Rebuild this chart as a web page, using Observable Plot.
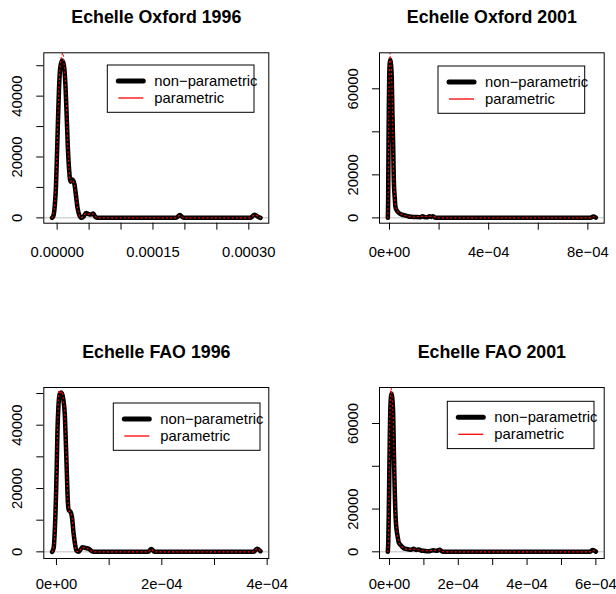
<!DOCTYPE html>
<html><head><meta charset="utf-8">
<script src="https://cdn.jsdelivr.net/npm/d3@7"></script>
<script src="https://cdn.jsdelivr.net/npm/@observablehq/plot@0.6"></script>
<style>
html,body{margin:0;padding:0;background:#fff;}
#root{position:relative;width:616px;height:594px;overflow:hidden;font-family:"Liberation Sans",Arial,Helvetica,sans-serif;}
#root svg{position:absolute;overflow:visible;}
</style></head><body><div id="root"></div>
<script>
// ---------- data ----------
const titles = ["Echelle Oxford 1996", "Echelle Oxford 2001", "Echelle FAO 1996", "Echelle FAO 2001"];
const legendLabels = ["non\u2212parametric", "parametric"];

// non-parametric (black) density curves: [x, density]
const oxford1996NP = [[-7.9e-6,0],[-5.7e-6,770],[-3.7e-6,4050],[-1.8e-6,10600],[-0.3e-6,20500],[1.3e-6,32000],[2.9e-6,42500],[4.7e-6,49100],[7.6e-6,51700],[1.04e-5,50400],[1.26e-5,45100],[1.46e-5,35300],[1.66e-5,23800],[1.88e-5,15600],[2.09e-5,11900],[2.4e-5,12600],[2.71e-5,11000],[2.95e-5,7300],[3.18e-5,3400],[3.5e-5,760],[3.81e-5,0],[4.12e-5,400],[4.51e-5,1600],[4.9e-5,1250],[5.3e-5,1100],[5.64e-5,1400],[6.0e-5,270],[6.3e-5,0],[1.86e-4,0],[1.92e-4,900],[1.98e-4,0],[3.02e-4,0],[3.09e-4,1000],[3.15e-4,300],[3.183e-4,0]];
const oxford2001NP = [[-6.7e-6,0],[-5.5e-6,8000],[-4e-6,33600],[-2.6e-6,52000],[-1.2e-6,64700],[1e-6,72000],[3.5e-6,73500],[6e-6,71500],[9.3e-6,64700],[1.2e-5,48000],[1.49e-5,33600],[1.73e-5,18000],[2.14e-5,9000],[2.42e-5,5000],[3.0e-5,3300],[3.75e-5,2300],[4.6e-5,1700],[5.8e-5,1250],[7.0e-5,900],[8.5e-5,500],[1.05e-4,380],[1.25e-4,300],[1.34e-4,750],[1.42e-4,250],[1.53e-4,300],[1.61e-4,750],[1.68e-4,450],[1.75e-4,750],[1.83e-4,150],[1.93e-4,0],[8.1e-4,0],[8.22e-4,600],[8.32e-4,100]];
const fao1996NP = [[-8.2e-6,0],[-5.1e-6,1450],[-3.2e-6,6700],[-1.9e-6,12000],[-0.6e-6,19400],[0.6e-6,27800],[1.9e-6,38300],[3.8e-6,46200],[6.3e-6,50000],[9.5e-6,50300],[1.27e-5,48400],[1.58e-5,43500],[1.77e-5,35000],[1.96e-5,25400],[2.15e-5,16200],[2.34e-5,13100],[2.66e-5,12700],[2.98e-5,10500],[3.23e-5,6100],[3.51e-5,2600],[3.8e-5,400],[4.18e-5,0],[4.56e-5,700],[4.94e-5,1450],[5.51e-5,1200],[6.13e-5,950],[6.65e-5,250],[7.1e-5,0],[1.74e-4,0],[1.8e-4,900],[1.86e-4,0],[3.74e-4,0],[3.81e-4,1000],[3.873e-4,200]];
const fao2001NP = [[-4.9e-6,0],[-3.5e-6,5000],[-2.2e-6,17000],[-0.9e-6,33300],[0.5e-6,50000],[2e-6,64500],[4e-6,72000],[6e-6,74000],[8e-6,72000],[1.07e-5,64500],[1.25e-5,49000],[1.45e-5,33300],[1.65e-5,21500],[1.83e-5,14600],[2.1e-5,9800],[2.4e-5,6800],[2.7e-5,4300],[3.4e-5,2900],[4.15e-5,1700],[5.0e-5,1300],[5.6e-5,1100],[6.3e-5,1000],[7.0e-5,1400],[7.8e-5,900],[8.5e-5,1100],[9.2e-5,600],[9.9e-5,470],[1.12e-4,250],[1.28e-4,700],[1.37e-4,450],[1.46e-4,1000],[1.52e-4,300],[1.58e-4,0],[5.82e-4,0],[5.91e-4,800],[5.999e-4,100]];

// parametric (red) curves: [x, density]
const oxford1996P = [[-7.9e-6,0],[-3.5e-6,5000],[-0.5e-6,20000],[2.5e-6,41000],[5e-6,50500],[7.5e-6,53500],[9e-6,54200],[1.1e-5,50000],[1.3e-5,44000],[1.5e-5,34000],[1.7e-5,22500],[1.9e-5,15000],[2.1e-5,12000],[2.4e-5,12300],[2.7e-5,10800],[3.0e-5,6500],[3.2e-5,3000],[3.5e-5,700],[3.8e-5,50],[4.5e-5,1500],[4.9e-5,1200],[5.6e-5,1300],[6.3e-5,0],[1.86e-4,0],[1.92e-4,800],[1.98e-4,0],[3.02e-4,0],[3.09e-4,900],[3.183e-4,0]];
const oxford2001P = [[-6.7e-6,0],[-5e-6,15000],[-3.5e-6,40000],[-1.5e-6,63000],[1e-6,74500],[2.5e-6,76500],[5e-6,73000],[9e-6,65000],[1.2e-5,48500],[1.5e-5,32500],[1.75e-5,18500],[2.1e-5,9500],[2.5e-5,5200],[3.5e-5,2600],[5e-5,1600],[7e-5,900],[1e-4,400],[1.34e-4,700],[1.61e-4,700],[1.75e-4,700],[1.93e-4,0],[8.1e-4,0],[8.22e-4,550],[8.32e-4,100]];
const fao1996P = [[-8.2e-6,0],[-5e-6,1500],[-2e-6,12000],[0.5e-6,27500],[2.5e-6,41000],[4.5e-6,51000],[6.5e-6,50500],[9e-6,49800],[1.05e-5,50800],[1.3e-5,48000],[1.6e-5,43000],[1.8e-5,34500],[2.0e-5,24500],[2.2e-5,15500],[2.45e-5,12800],[2.7e-5,12500],[3.0e-5,10200],[3.25e-5,5800],[3.5e-5,2500],[3.8e-5,300],[4.2e-5,0],[4.9e-5,1400],[6.1e-5,900],[7.1e-5,0],[1.74e-4,0],[1.8e-4,850],[1.86e-4,0],[3.74e-4,0],[3.81e-4,950],[3.873e-4,200]];
const fao2001P = [[-4.9e-6,0],[-3e-6,9000],[-1e-6,35000],[1e-6,62000],[3e-6,74000],[4.5e-6,76500],[6.5e-6,74500],[9e-6,68000],[1.1e-5,62000],[1.3e-5,46500],[1.5e-5,31500],[1.7e-5,20500],[1.9e-5,13500],[2.2e-5,9000],[2.6e-5,5200],[3.2e-5,3200],[4.2e-5,1700],[5.6e-5,1100],[7e-5,1300],[8.5e-5,1000],[1e-4,450],[1.28e-4,650],[1.46e-4,900],[1.58e-4,0],[5.82e-4,0],[5.91e-4,750],[5.999e-4,100]];

// ticks and tick labels
const xTicksOx96 = [0, 5e-5, 1e-4, 1.5e-4, 2e-4, 2.5e-4, 3e-4];
const xLabelsOx96 = ["0.00000", "", "", "0.00015", "", "", "0.00030"];
const xTicksOx01 = [0, 2e-4, 4e-4, 6e-4, 8e-4];
const xLabelsOx01 = ["0e+00", "", "4e\u221204", "", "8e\u221204"];
const xTicksFao96 = [0, 1e-4, 2e-4, 3e-4, 4e-4];
const xLabelsFao96 = ["0e+00", "", "2e\u221204", "", "4e\u221204"];
const xTicksFao01 = [0, 1e-4, 2e-4, 3e-4, 4e-4, 5e-4, 6e-4];
const xLabelsFao01 = ["0e+00", "", "2e\u221204", "", "4e\u221204", "", "6e\u221204"];
const yTicks50k = [0, 10000, 20000, 30000, 40000, 50000];
const yLabels50k = ["0", "", "20000", "", "40000", ""];
const yTicks60k = [0, 20000, 40000, 60000];
const yLabels60k = ["0", "20000", "", "60000"];

// ---------- layout ----------
const FONT = "'Liberation Sans', Arial, Helvetica, sans-serif";
const panels = [
  {title: titles[0], np: oxford1996NP, par: oxford1996P, left: 0, top: 0,
   m: [52.3, 39.7, 74.3, 43.3], xd: [-2.09e-5, 3.313e-4], yd: [-1760, 54250],
   xt: xTicksOx96, xl: xLabelsOx96, yt: yTicks50k, yl: yLabels50k, xpad: 16, leg: [107.3, 65]},
  {title: titles[1], np: oxford2001NP, par: oxford2001P, left: 308, top: 0,
   m: [52.3, 12.3, 74.3, 71], xd: [-4.03e-5, 8.659e-4], yd: [-2480, 76740],
   xt: xTicksOx01, xl: xLabelsOx01, yt: yTicks60k, yl: yLabels60k, xpad: 16, leg: [130, 66]},
  {title: titles[2], np: fao1996NP, par: fao1996P, left: 0, top: 297,
   m: [90, 39.7, 36, 43.3], xd: [-2.405e-5, 4.031e-4], yd: [-2100, 51900],
   xt: xTicksFao96, xl: xLabelsFao96, yt: yTicks50k, yl: yLabels50k, xpad: 13, leg: [113.3, 106]},
  {title: titles[3], np: fao2001NP, par: fao2001P, left: 308, top: 297,
   m: [90, 12.3, 36, 71], xd: [-2.908e-5, 6.2425e-4], yd: [-3120, 76830],
   xt: xTicksFao01, xl: xLabelsFao01, yt: yTicks60k, yl: yLabels60k, xpad: 13, leg: [139.3, 104.3]}
];

const root = document.getElementById("root");
for (const p of panels) {
  const xMap = new Map(p.xt.map((v, i) => [v, p.xl[i]]));
  const yLab = p.yt.map((v, i) => ({v, t: p.yl[i]})).filter(d => d.t !== "");
  const svg = Plot.plot({
    width: 308, height: 297,
    marginTop: p.m[0], marginRight: p.m[1], marginBottom: p.m[2], marginLeft: p.m[3],
    x: {domain: p.xd},
    y: {domain: p.yd},
    style: {fontFamily: FONT, fontSize: "14.8px", background: "transparent", color: "black", overflow: "visible"},
    marks: [
      Plot.ruleY([0], {stroke: "#bebebe", strokeWidth: 1}),
      Plot.line(p.np, {x: d => d[0], y: d => d[1], stroke: "black", strokeWidth: 4.5,
        strokeLinejoin: "round", strokeLinecap: "round", curve: "monotone-x", clip: true}),
      Plot.line(p.par, {x: d => d[0], y: d => d[1], stroke: "#ff0000", strokeWidth: 1.1,
        strokeDasharray: "1.2,3", curve: "monotone-x", clip: true}),
      Plot.frame({stroke: "black", strokeWidth: 1}),
      Plot.axisX(p.xt, {tickSize: 7, tickPadding: p.xpad, tickFormat: d => xMap.get(d), fontSize: 14.8, label: null, stroke: "black"}),
      Plot.axisY(p.yt, {tickSize: 7, tickFormat: () => "", label: null, stroke: "black"}),
      Plot.text(yLab, {y: "v", text: "t", frameAnchor: "left", dx: -26.3, rotate: -90,
        textAnchor: "middle", lineAnchor: "middle", fontSize: 14.8}),
      Plot.text([p.title], {text: d => d, frameAnchor: "top", dy: -35.5, lineAnchor: "middle",
        fontWeight: "bold", fontSize: 17.8})
    ]
  });
  svg.style.left = p.left + "px";
  svg.style.top = p.top + "px";
  // legend box
  const g = d3.select(svg).append("g").attr("font-family", FONT).attr("font-size", "14.8px")
    .attr("text-anchor", "start");
  const [lx, ly] = p.leg;
  g.append("rect").attr("x", lx).attr("y", ly).attr("width", 146.7).attr("height", 47.3)
    .attr("fill", "white").attr("stroke", "black").attr("stroke-width", 1);
  g.append("line").attr("x1", lx + 11).attr("x2", lx + 36).attr("y1", ly + 16).attr("y2", ly + 16)
    .attr("stroke", "black").attr("stroke-width", 5).attr("stroke-linecap", "round");
  g.append("line").attr("x1", lx + 11).attr("x2", lx + 36).attr("y1", ly + 33).attr("y2", ly + 33)
    .attr("stroke", "#ff0000").attr("stroke-width", 1.3);
  g.append("text").attr("x", lx + 47).attr("y", ly + 16).attr("dy", "0.35em").attr("text-anchor", "start")
    .attr("fill", "black").text(legendLabels[0]);
  g.append("text").attr("x", lx + 47).attr("y", ly + 33).attr("dy", "0.35em").attr("text-anchor", "start")
    .attr("fill", "black").text(legendLabels[1]);
  root.appendChild(svg);
}
</script>
</body></html>
